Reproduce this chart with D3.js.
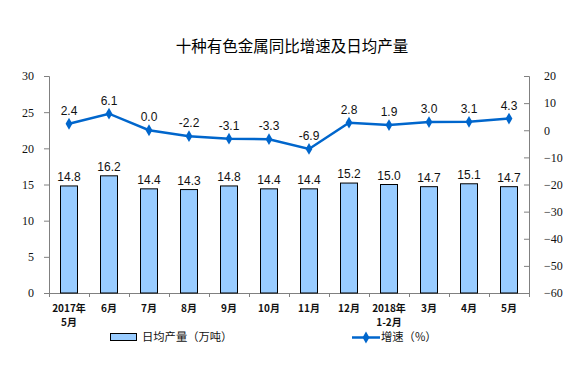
<!DOCTYPE html>
<html><head><meta charset="utf-8">
<script src="https://cdn.jsdelivr.net/npm/d3@7"></script>
<style>body{margin:0;background:#fff}svg{display:block}</style>
</head><body>
<script>
const categories = [["2017年","5月"],["6月"],["7月"],["8月"],["9月"],["10月"],["11月"],["12月"],["2018年","1-2月"],["3月"],["4月"],["5月"]];
const output = [14.8,16.2,14.4,14.3,14.8,14.4,14.4,15.2,15.0,14.7,15.1,14.7];
const growth = [2.4,6.1,0.0,-2.2,-3.1,-3.3,-6.9,2.8,1.9,3.0,3.1,4.3];
const leftTicks = [0,5,10,15,20,25,30];
const rightTicks = [-60,-50,-40,-30,-20,-10,0,10,20];
const title = "十种有色金属同比增速及日均产量";
const legendBar = "日均产量（万吨）";
const legendLine = "增速（%）";

const W=567,H=370, L=49, R=529, T=76, B=293;
const svg = d3.select("body").append("svg").attr("width",W).attr("height",H);
const x = d3.scaleBand().domain(d3.range(categories.length)).range([L,R]);
const yL = d3.scaleLinear().domain([0,30]).range([B,T]);
const yR = d3.scaleLinear().domain([-60,20]).range([B,T]);
const serif = "'Liberation Serif','Times New Roman',serif";
const sans = "'Liberation Sans',Arial,sans-serif";
const cjk = "'Noto Sans CJK SC',sans-serif";

svg.append("text").attr("x",292).attr("y",52).attr("text-anchor","middle")
  .attr("font-family",cjk).attr("font-size",15.5).attr("fill","#000").text(title);

// axes
const axL = svg.append("g").attr("transform",`translate(${L},0)`)
  .call(d3.axisLeft(yL).tickValues(leftTicks).tickSize(5).tickPadding(10));
const axR = svg.append("g").attr("transform",`translate(${R},0)`)
  .call(d3.axisRight(yR).tickValues(rightTicks).tickSize(-5).tickPadding(15));
[axL,axR].forEach(a=>{
  a.select(".domain").attr("stroke","#808080");
  a.selectAll(".tick line").attr("stroke","#808080");
  a.selectAll(".tick text").attr("font-family",serif).attr("font-size",12).attr("fill","#111");
});
// bottom axis
svg.append("line").attr("x1",L).attr("x2",R).attr("y1",B+0.5).attr("y2",B+0.5).attr("stroke","#808080");
const bt = d3.range(categories.length+1).map(i=> i<categories.length? x(i): R);
svg.selectAll(".bt").data(bt).enter().append("line")
  .attr("x1",d=>Math.round(d)+0.5).attr("x2",d=>Math.round(d)+0.5).attr("y1",B).attr("y2",B+4).attr("stroke","#808080");

// category labels
const cl = svg.selectAll(".cl").data(categories).enter().append("text")
  .attr("text-anchor","middle").attr("font-family",cjk).attr("font-size",10).attr("fill","#111")
  .attr("font-weight","bold");
cl.each(function(d,i){
  const t=d3.select(this);
  d.forEach((s,j)=>t.append("tspan").attr("x",x(i)+x.bandwidth()/2).attr("y",312+j*14).text(s));
});

// bars
const bw=17;
svg.selectAll(".bar").data(output).enter().append("rect")
  .attr("x",(d,i)=>x(i)+x.bandwidth()/2-bw/2).attr("width",bw)
  .attr("y",d=>yL(d)).attr("height",d=>yL(0)-yL(d))
  .attr("fill","#99CCFF").attr("stroke","#000").attr("stroke-width",1);
svg.selectAll(".bl").data(output).enter().append("text")
  .attr("x",(d,i)=>x(i)+x.bandwidth()/2).attr("y",d=>yL(d)-5)
  .attr("text-anchor","middle").attr("font-family",sans).attr("font-size",12).attr("fill","#111")
  .text(d=>d.toFixed(1));

// line
const lc="#0066CC";
const line=d3.line().x((d,i)=>x(i)+x.bandwidth()/2).y(d=>yR(d));
svg.append("path").datum(growth).attr("d",line).attr("fill","none").attr("stroke",lc).attr("stroke-width",2.5);
const diamond=d3.symbol().type(d3.symbolDiamond).size(40);
svg.selectAll(".pt").data(growth).enter().append("path").attr("d",diamond)
  .attr("transform",(d,i)=>`translate(${x(i)+x.bandwidth()/2},${yR(d)})`).attr("fill",lc);
svg.selectAll(".gl").data(growth).enter().append("text")
  .attr("x",(d,i)=>x(i)+x.bandwidth()/2).attr("y",d=>yR(d)-9)
  .attr("text-anchor","middle").attr("font-family",sans).attr("font-size",12).attr("fill","#111")
  .text(d=>d.toFixed(1));

// legend
svg.append("rect").attr("x",110.5).attr("y",333.5).attr("width",26).attr("height",7)
  .attr("fill","#99CCFF").attr("stroke","#000");
svg.append("text").attr("x",142).attr("y",341).attr("font-family",cjk).attr("font-size",11.3).attr("fill","#111").text(legendBar);
svg.append("line").attr("x1",352).attr("x2",380).attr("y1",337.5).attr("y2",337.5).attr("stroke",lc).attr("stroke-width",2.5);
svg.append("path").attr("d",diamond).attr("transform","translate(366,337.5)").attr("fill",lc);
svg.append("text").attr("x",381).attr("y",341).attr("font-family",cjk).attr("font-size",11.3).attr("fill","#111").text(legendLine);
</script>
</body></html>
